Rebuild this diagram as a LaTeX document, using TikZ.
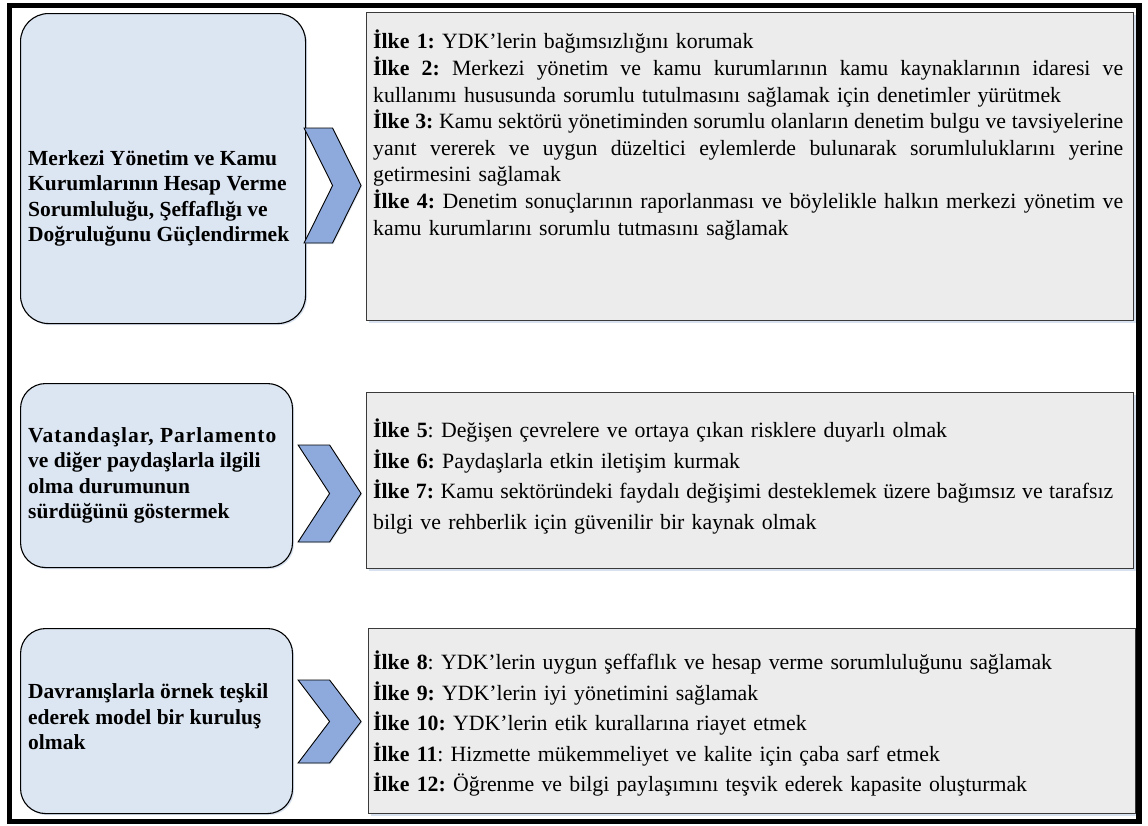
\documentclass[tikz,border=0pt]{standalone}
\usepackage{fontspec}
\setmainfont{Liberation Serif}
\usetikzlibrary{calc,shadows}

\definecolor{goalfill}{HTML}{DCE6F2}
\definecolor{chevfill}{HTML}{8EA9DB}
\definecolor{princfill}{HTML}{ECECEC}
\definecolor{princline}{HTML}{3A3A3A}
\definecolor{shadeblue}{HTML}{A9BEDD}

\frenchspacing
% a line stretched to the full text width (justified line)
\newcommand\jl[2][750pt]{{\spaceskip=0.25em plus 1fil minus 0.08em\makebox[#1][s]{#2}}\\}
\newcommand\ilk[1]{\textbf{İlke #1}}

\tikzset{
  goal/.style={draw=black, line width=1.1pt, fill=goalfill, rounded corners=28pt,
    drop shadow={shadow xshift=1.5pt, shadow yshift=-1.5pt, fill=shadeblue, opacity=0.45}},
  goaltext/.style={anchor=west, inner sep=0pt, align=left,
    font=\fontsize{21.5}{25.5}\selectfont\bfseries},
  principle/.style={draw=princline, line width=1.1pt, fill=princfill,
    drop shadow={shadow xshift=2pt, shadow yshift=-2pt, fill=shadeblue, opacity=0.45}},
  ptext/.style={anchor=north west, inner sep=0pt, text width=750pt, align=left},
  chevron/.style={draw=black, line width=0.9pt, fill=chevfill, line join=miter,
    drop shadow={shadow xshift=1pt, shadow yshift=-1pt, fill=shadeblue, opacity=0.4}},
}

% chevron: top-left corner, width, height
\newcommand\chevron[3]{%
  \draw[chevron] #1 -- ++(#2/2,0) -- ++(#2/2,#3/2) -- ++(-#2/2,#3/2)
    -- ++(-#2/2,0) -- ++(#2/2,-#3/2) -- cycle;}

\begin{document}
\begin{tikzpicture}[x=1pt, y=-1pt]
  \fill[white] (0,0) rectangle (1148,825);
  \useasboundingbox (0,0) rectangle (1148,825);

  % ---------- goals (left column) ----------
  \node[goal, minimum width=285pt, minimum height=310pt, anchor=north west] (g1) at (20,13) {};
  \node[goal, rounded corners=25pt, minimum width=272pt, minimum height=184pt, anchor=north west] (g2) at (20,383) {};
  \node[goal, rounded corners=25pt, minimum width=272pt, minimum height=185pt, anchor=north west] (g3) at (20,628) {};

  \node[goaltext] (g1t) at ($(g1.west)+(8,30)$)
    {Merkezi Yönetim ve Kamu\\Kurumlarının Hesap Verme\\Sorumluluğu, Şeffaflığı ve\\Doğruluğunu Güçlendirmek};
  \node[goaltext] (g2t) at ($(g2.west)+(8,0)$)
    {{\addfontfeature{LetterSpace=4.5}Vatandaşlar, Parlamento}\\ve diğer paydaşlarla ilgili\\olma durumunun\\sürdüğünü göstermek};
  \node[goaltext] (g3t) at ($(g3.west)+(8,-4)$)
    {Davranışlarla örnek teşkil\\ederek model bir kuruluş\\olmak};

  % ---------- principle boxes (right column) ----------
  \node[principle, minimum width=767pt, minimum height=308pt, anchor=north west] (p1) at (366,12) {};
  \node[principle, minimum width=767pt, minimum height=176pt, anchor=north west] (p2) at (366,392) {};
  \node[principle, minimum width=767pt, minimum height=185pt, anchor=north west] (p3) at (368,628) {};

  \node[ptext, font=\fontsize{21.8}{26.6}\selectfont] (t1) at ($(p1.north west)+(7,18)$) {%
    \ilk{1:} YDK’lerin bağımsızlığını korumak\\
    \jl{\ilk{2:} Merkezi yönetim ve kamu kurumlarının kamu kaynaklarının idaresi ve}
    kullanımı hususunda sorumlu tutulmasını sağlamak için denetimler yürütmek\\
    \jl{\ilk{3:} Kamu sektörü yönetiminden sorumlu olanların denetim bulgu ve tavsiyelerine}
    \jl{yanıt vererek ve uygun düzeltici eylemlerde bulunarak sorumluluklarını yerine}
    getirmesini sağlamak\\
    \jl{\ilk{4:} Denetim sonuçlarının raporlanması ve böylelikle halkın merkezi yönetim ve}
    kamu kurumlarını sorumlu tutmasını sağlamak};

  \node[ptext, font=\fontsize{21.8}{30.5}\selectfont] (t2) at ($(p2.north west)+(7,27)$) {%
    \ilk{5}: Değişen çevrelere ve ortaya çıkan risklere duyarlı olmak\\
    \ilk{6:} Paydaşlarla etkin iletişim kurmak\\
    \jl[740pt]{\ilk{7:} Kamu sektöründeki faydalı değişimi desteklemek üzere bağımsız ve tarafsız}
    bilgi ve rehberlik için güvenilir bir kaynak olmak};

  \node[ptext, font=\fontsize{21.8}{30.5}\selectfont] (t3) at ($(p3.north west)+(5,23)$) {%
    \ilk{8}: YDK’lerin uygun şeffaflık ve hesap verme sorumluluğunu sağlamak\\
    \ilk{9:} YDK’lerin iyi yönetimini sağlamak\\
    \ilk{10:} YDK’lerin etik kurallarına riayet etmek\\
    \ilk{11}: Hizmette mükemmeliyet ve kalite için çaba sarf etmek\\
    \ilk{12:} Öğrenme ve bilgi paylaşımını teşvik ederek kapasite oluşturmak};

  % ---------- chevrons between goals and principles ----------
  \chevron{($(g1.north east)+(-2,115)$)}{57}{115}
  \chevron{($(g2.north east)+(5,62)$)}{63}{97}
  \chevron{($(g3.north east)+(5,52)$)}{63}{83}

  % ---------- outer frame ----------
  \draw[line width=5.5pt] (9.5,5.5) rectangle (1139,821.5);
\end{tikzpicture}
\end{document}
